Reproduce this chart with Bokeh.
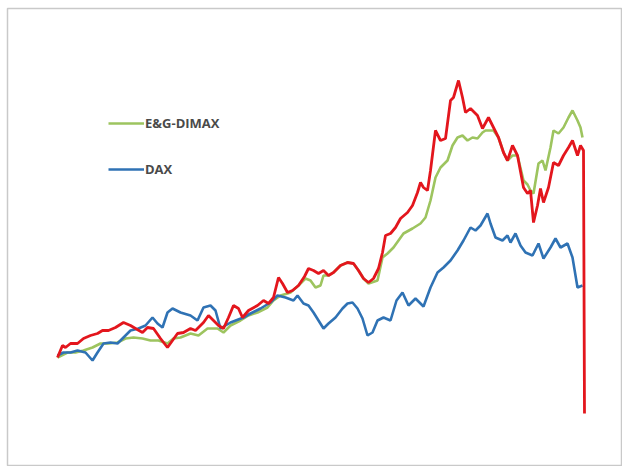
from bokeh.plotting import figure
from bokeh.models import Range1d, Legend, LegendItem
from bokeh.embed import file_html
from bokeh.resources import INLINE

# Index levels (x = week index, y = index points)
red_t = [0, 5, 8, 13, 20, 26, 33, 40, 45, 51, 58, 66, 73, 78, 85, 90, 96, 103, 110, 115,
         120, 126, 133, 138, 146, 151, 156, 161, 166, 171, 176, 181, 185, 191, 200, 206, 211, 216, 221, 225,
         230, 235, 241, 247, 251, 256, 261, 266, 271, 276, 283, 290, 296, 301, 306, 311, 316, 321, 325, 328,
         333, 338, 343, 350, 355, 360, 363, 366, 370, 373, 378, 383, 388, 393, 396, 401, 405, 408, 413, 420,
         425, 431, 436, 441, 446, 450, 455, 460, 466, 470, 473, 476, 480, 483, 486, 491, 496, 501, 506, 511,
         515, 520, 523, 526, 527]
red_v = [112, 124, 122, 126, 126, 131, 134, 136, 139, 139, 142, 147, 144, 141, 137, 142, 141, 131, 122, 129,
         136, 137, 141, 139, 147, 154, 149, 144, 141, 152, 164, 161, 152, 159, 164, 169, 166, 172, 192, 186,
         177, 179, 184, 193, 201, 199, 196, 199, 194, 197, 204, 207, 206, 199, 191, 187, 191, 201, 217, 234,
         236, 242, 251, 257, 264, 277, 287, 282, 279, 299, 339, 329, 331, 369, 372, 389, 372, 357, 361, 354,
         341, 352, 342, 332, 317, 309, 324, 314, 282, 276, 279, 247, 264, 281, 267, 282, 307, 304, 314, 322,
         329, 314, 324, 319, 56]

green_t = [0, 10, 18, 26, 35, 43, 51, 60, 68, 76, 85, 93, 101, 110, 116, 123, 133, 141, 150, 160,
           166, 173, 183, 191, 200, 210, 216, 223, 230, 233, 241, 248, 253, 258, 263, 266, 271, 276, 283, 290,
           296, 301, 306, 311, 320, 325, 330, 336, 341, 346, 355, 363, 368, 373, 378, 383, 390, 395, 400, 405,
           410, 415, 420, 425, 428, 436, 441, 446, 450, 455, 460, 466, 470, 473, 476, 481, 485, 488, 493, 496,
           501, 506, 511, 515, 520, 523, 525]
green_v = [112, 117, 117, 119, 122, 126, 126, 127, 131, 132, 131, 129, 129, 126, 131, 132, 136, 134, 141, 141,
           137, 144, 149, 154, 157, 162, 169, 174, 176, 177, 184, 191, 189, 182, 184, 194, 194, 197, 204, 207,
           206, 199, 191, 186, 189, 212, 216, 222, 229, 236, 241, 246, 252, 269, 292, 302, 309, 324, 332, 334,
           329, 332, 331, 337, 339, 339, 332, 317, 309, 314, 314, 289, 285, 279, 276, 306, 309, 299, 322, 339,
           336, 342, 352, 359, 349, 342, 332]

dax_t = [0, 6, 13, 20, 28, 35, 40, 46, 53, 60, 66, 73, 81, 88, 95, 100, 105, 110, 115, 123,
         133, 140, 146, 153, 158, 163, 173, 186, 193, 203, 213, 220, 228, 236, 240, 246, 251, 256, 261, 266,
         271, 278, 285, 290, 295, 300, 305, 310, 315, 320, 326, 333, 339, 345, 351, 358, 366, 373, 380, 386,
         393, 400, 406, 413, 418, 423, 430, 433, 438, 445, 450, 453, 458, 463, 468, 475, 481, 486, 493, 498,
         503, 510, 515, 520, 525]
dax_v = [114, 117, 117, 119, 117, 109, 117, 126, 127, 126, 132, 139, 141, 144, 152, 146, 142, 157, 161, 157,
         154, 149, 162, 164, 159, 141, 147, 152, 156, 161, 167, 174, 172, 169, 174, 166, 164, 157, 149, 141,
         146, 152, 161, 166, 167, 161, 151, 134, 137, 149, 152, 149, 169, 177, 164, 171, 163, 182, 197, 202,
         209, 219, 229, 242, 239, 244, 256, 246, 232, 229, 234, 227, 236, 224, 217, 214, 226, 211, 222, 231,
         222, 226, 212, 182, 184]

legend_labels = ["E&G-DIMAX", "DAX"]

p = figure(width=622, height=466, output_backend="svg", toolbar_location=None,
           x_range=Range1d(-50, 565), y_range=Range1d(4, 461),
           min_border=0, min_border_left=7, min_border_right=0,
           min_border_top=8, min_border_bottom=1)
p.xaxis.visible = False
p.yaxis.visible = False
p.grid.visible = False
p.outline_line_color = "#c9c9c9"
p.outline_line_width = 1.5
p.background_fill_color = "white"
p.border_fill_color = "white"

g = p.line(green_t, green_v, line_color="#9dc45f", line_width=2.6)
b = p.line(dax_t, dax_v, line_color="#2f72b4", line_width=2.6)
r = p.line(red_t, red_v, line_color="#e3161d", line_width=2.8)

legend = Legend(items=[LegendItem(label=legend_labels[0], renderers=[g]),
                       LegendItem(label=legend_labels[1], renderers=[b])],
                location=(101, 286), orientation="vertical",
                glyph_width=36, glyph_height=20, label_height=20,
                spacing=26, padding=0, margin=0, label_standoff=1,
                label_text_font="Open Sans", label_text_font_size="13px",
                label_text_font_style="bold",
                label_text_color="#4a4a4a",
                border_line_color=None, background_fill_alpha=0)
p.add_layout(legend)

open("out.html", "w").write(file_html(p, INLINE))
